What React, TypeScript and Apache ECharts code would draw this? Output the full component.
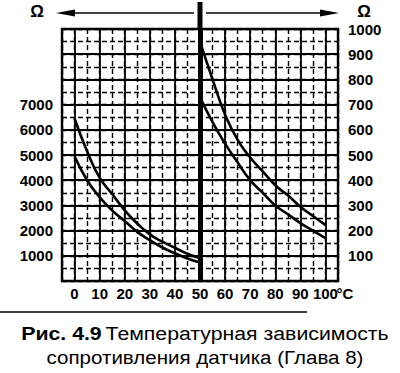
import React, { useEffect, useRef } from 'react';
import * as echarts from 'echarts';

// Temperature (°C) and resistance (Ω)
const leftTemps = [0, 5, 10, 15, 20, 25, 30, 35, 40, 45, 50];
const leftUpper = [6450, 5150, 4100, 3450, 2800, 2280, 1850, 1560, 1320, 1080, 900];
const leftLower = [4950, 4000, 3330, 2800, 2380, 1950, 1620, 1330, 1100, 890, 730];
const rightTemps = [50, 55, 60, 65, 70, 75, 80, 85, 90, 95, 100];
const rightUpper = [950, 800, 660, 560, 490, 435, 380, 340, 295, 258, 222];
const rightLower = [730, 630, 545, 470, 400, 350, 300, 265, 230, 200, 170];

const xTickLabels = [0, 10, 20, 30, 40, 50, 60, 70, 80, 90, 100];
const leftTickLabels = [1000, 2000, 3000, 4000, 5000, 6000, 7000];
const rightTickLabels = [100, 200, 300, 400, 500, 600, 700, 800, 900, 1000];
const xMajorLines = [0, 10, 20, 30, 40, 60, 70, 80, 90, 100];
const yMajorLines = [1000, 2000, 3000, 4000, 5000, 6000, 7000, 8000, 9000];
const divider = 50;

const FONT = '"Liberation Sans", Arial, Helvetica, sans-serif';

export default function App() {
  const ref = useRef<HTMLDivElement>(null);
  useEffect(() => {
    document.body.style.margin = '0';
    const chart = echarts.init(ref.current!, null, { renderer: 'svg' });
    const pair = (xs: number[], ys: number[]) => xs.map((x, i) => [x, ys[i]]);
    const curveStyle = { color: '#000', width: 2.6 };
    const axisLabelBase = { color: '#000', fontFamily: FONT, fontWeight: 'bold' as const, fontSize: 15 };
    chart.setOption({
      animation: false,
      backgroundColor: '#fff',
      grid: { left: 62, right: 62, top: 29, bottom: 92, show: true, borderColor: '#000', borderWidth: 2.4, containLabel: false },
      xAxis: {
        type: 'value', min: -5, max: 105, interval: 5,
        axisLine: { show: false }, axisTick: { show: false },
        splitLine: { show: true, lineStyle: { color: '#000', width: 1.4, type: [5, 3] } },
        axisLabel: {
          ...axisLabelBase, margin: 5,
          formatter: (v: number) => (xTickLabels.includes(v) ? String(v) : ''),
        },
      },
      yAxis: [
        {
          type: 'value', min: 0, max: 10000, interval: 500, position: 'left',
          axisLine: { show: false }, axisTick: { show: false },
          splitLine: { show: true, lineStyle: { color: '#000', width: 1.4, type: [5, 3] } },
          axisLabel: {
            ...axisLabelBase, margin: 9,
            formatter: (v: number) => (leftTickLabels.includes(v) ? String(v) : ''),
          },
        },
        {
          type: 'value', min: 0, max: 1000, interval: 100, position: 'right',
          axisLine: { show: false }, axisTick: { show: false }, splitLine: { show: false },
          axisLabel: {
            ...axisLabelBase, margin: 10,
            formatter: (v: number) => (rightTickLabels.includes(v) ? String(v) : ''),
          },
        },
      ],
      series: [
        {
          type: 'line', data: [], yAxisIndex: 0, z: 1, silent: true,
          markLine: {
            silent: true, symbol: 'none', label: { show: false },
            lineStyle: { color: '#000', width: 1.8, type: 'solid' },
            data: [
              ...xMajorLines.map((v) => ({ xAxis: v })),
              ...yMajorLines.map((v) => ({ yAxis: v })),
            ],
          },
        },
        {
          type: 'line', data: [], yAxisIndex: 0, z: 4, silent: true,
          markLine: {
            silent: true, symbol: 'none', label: { show: false },
            lineStyle: { color: '#000', width: 5, type: 'solid' },
            data: [{ xAxis: divider }],
          },
        },
        { type: 'line', yAxisIndex: 0, data: pair(leftTemps, leftUpper), smooth: true, symbol: 'none', lineStyle: curveStyle, z: 3 },
        { type: 'line', yAxisIndex: 0, data: pair(leftTemps, leftLower), smooth: true, symbol: 'none', lineStyle: curveStyle, z: 3 },
        { type: 'line', yAxisIndex: 1, data: pair(rightTemps, rightUpper), smooth: true, symbol: 'none', lineStyle: curveStyle, z: 3 },
        { type: 'line', yAxisIndex: 1, data: pair(rightTemps, rightLower), smooth: true, symbol: 'none', lineStyle: curveStyle, z: 3 },
      ],
    });

    const xDiv = chart.convertToPixel({ xAxisIndex: 0 }, divider) as number;
    const xLeft = chart.convertToPixel({ xAxisIndex: 0 }, -5) as number;
    const xRight = chart.convertToPixel({ xAxisIndex: 0 }, 105) as number;
    const x100 = chart.convertToPixel({ xAxisIndex: 0 }, 100) as number;
    const yTop = chart.convertToPixel({ yAxisIndex: 0 }, 10000) as number;
    const yBottom = chart.convertToPixel({ yAxisIndex: 0 }, 0) as number;
    const ay = 13;
    chart.setOption({
      graphic: [
        { type: 'line', shape: { x1: xDiv, y1: 2, x2: xDiv, y2: yTop }, style: { stroke: '#000', lineWidth: 5 }, z: 10 },
        // left arrow
        { type: 'line', shape: { x1: xDiv - 6, y1: ay, x2: xLeft - 1, y2: ay }, style: { stroke: '#000', lineWidth: 1.6 } },
        { type: 'polygon', shape: { points: [[xLeft - 6, ay], [xLeft + 13, ay - 3.5], [xLeft + 13, ay + 3.5]] }, style: { fill: '#000' } },
        // right arrow
        { type: 'line', shape: { x1: xDiv + 6, y1: ay, x2: xRight - 4, y2: ay }, style: { stroke: '#000', lineWidth: 1.6 } },
        { type: 'polygon', shape: { points: [[xRight + 1, ay], [xRight - 18, ay - 3.5], [xRight - 18, ay + 3.5]] }, style: { fill: '#000' } },
        { type: 'text', style: { text: 'Ω', x: 37, y: 11, align: 'center', verticalAlign: 'middle', font: `bold 17px ${FONT}`, fill: '#000' } },
        { type: 'text', style: { text: 'Ω', x: 364, y: 11, align: 'center', verticalAlign: 'middle', font: `bold 17px ${FONT}`, fill: '#000' } },
        { type: 'text', style: { text: '°C', x: x100 + 11, y: yBottom + 5, align: 'left', verticalAlign: 'top', font: `bold 15px ${FONT}`, fill: '#000' } },
        { type: 'line', shape: { x1: 0, y1: 312, x2: 307, y2: 312 }, style: { stroke: '#000', lineWidth: 1.5 } },
        {
          type: 'text', x: 205, y: 333, scaleX: 1.12,
          style: {
            text: '{b|Рис. 4.9} {r|Температурная зависимость}',
            x: 0, y: 0, align: 'center', verticalAlign: 'middle',
            rich: {
              b: { font: `bold 19px ${FONT}`, fill: '#000' },
              r: { font: `19px ${FONT}`, fill: '#000' },
            },
          },
        },
        {
          type: 'text', x: 205, y: 357, scaleX: 1.08,
          style: { text: 'сопротивления датчика (Глава 8)', x: 0, y: 0, align: 'center', verticalAlign: 'middle', font: `19px ${FONT}`, fill: '#000' },
        },
      ],
    });
    return () => chart.dispose();
  }, []);
  return <div ref={ref} style={{ width: 400, height: 373 }} />;
}
